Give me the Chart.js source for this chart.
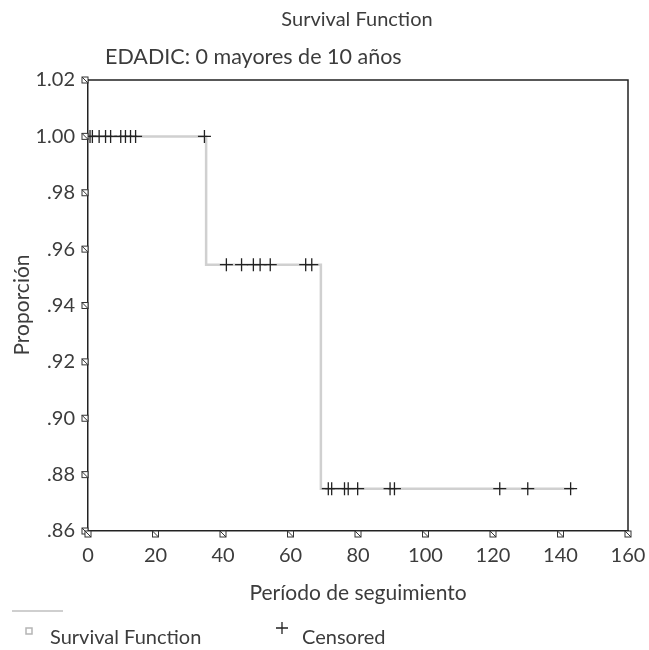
<!DOCTYPE html>
<html>
<head>
<meta charset="utf-8">
<script src="https://cdn.jsdelivr.net/npm/chart.js@4"></script>
<style>
  html, body { margin: 0; padding: 0; background: #fff; }
</style>
</head>
<body>
<canvas id="kmChart" width="649" height="650"></canvas>
<script>
// Kaplan-Meier: EDADIC 0 (mayores de 10 años)

// tiempos donde cambia la curva y proporción en cada tramo
const stepTimes = [0, 35, 69, 144];
const survival = [1.0, 0.9545, 0.875, 0.875];

// tiempos censurados
const censoredTimes = [0.6, 1.3, 3.3, 5.2, 6.7, 9.7, 11.1, 12.6, 14.1, 34.5,
    41, 45.5, 49, 51, 54, 64.5, 66.3,
    71.2, 72.2, 76, 77.1, 79.9, 89.5, 90.8, 122, 130.3, 143];

const xTicks = [0, 20, 40, 60, 80, 100, 120, 140, 160];
const yTicks = [0.86, 0.88, 0.90, 0.92, 0.94, 0.96, 0.98, 1.00, 1.02];

const textColor = '#3c3c3c';
const fontFamily = 'Lato, "Open Sans", sans-serif';

// proporción vigente en un tiempo dado (para situar las cruces)
function survivalAt(t) {
    let idx = 0;
    for (let i = 0; i < stepTimes.length; i++) {
        if (stepTimes[i] <= t) idx = i;
    }
    return survival[idx];
}

const curvePoints = stepTimes.map((t, i) => ({ x: t, y: survival[i] }));
const censoredPoints = censoredTimes.map(t => ({ x: t, y: survivalAt(t) }));

function tickBox(ctx, x, y) {
    ctx.save();
    ctx.fillStyle = '#fff';
    ctx.strokeStyle = '#333';
    ctx.lineWidth = 1;
    ctx.fillRect(x - 3, y - 3, 6, 6);
    ctx.strokeRect(x - 3, y - 3, 6, 6);
    ctx.beginPath();
    ctx.moveTo(x - 3, y - 3);
    ctx.lineTo(x + 3, y + 3);
    ctx.stroke();
    ctx.restore();
}

/**
 * Marco, marcas de los ejes, títulos y leyenda
 */
const decorations = {
    id: 'decorations',
    afterDraw(chart) {
        const ctx = chart.ctx;
        const area = chart.chartArea;
        const xs = chart.scales.x;
        const ys = chart.scales.y;

        // marco superior y derecho
        ctx.save();
        ctx.strokeStyle = '#222';
        ctx.lineWidth = 1.5;
        ctx.beginPath();
        ctx.moveTo(area.left, area.top);
        ctx.lineTo(area.right, area.top);
        ctx.lineTo(area.right, area.bottom);
        ctx.stroke();
        ctx.restore();

        // marcas cuadradas en los ejes
        yTicks.forEach(v => tickBox(ctx, area.left - 3, ys.getPixelForValue(v)));
        xTicks.forEach(v => tickBox(ctx, xs.getPixelForValue(v), area.bottom + 3));

        ctx.save();
        ctx.fillStyle = textColor;
        ctx.textBaseline = 'middle';

        // títulos
        ctx.font = '20px ' + fontFamily;
        ctx.textAlign = 'center';
        ctx.fillText('Survival Function', 357, 20);
        ctx.font = '21.5px ' + fontFamily;
        ctx.textAlign = 'left';
        ctx.fillText('EDADIC: 0 mayores de 10 años', 105, 57);

        // títulos de ejes
        ctx.font = '21px ' + fontFamily;
        ctx.textAlign = 'center';
        ctx.fillText('Período de seguimiento', 358, 593);
        ctx.save();
        ctx.translate(22, 305);
        ctx.rotate(-Math.PI / 2);
        ctx.fillText('Proporción', 0, 0);
        ctx.restore();

        // leyenda
        ctx.strokeStyle = '#cfcfcf';
        ctx.lineWidth = 2;
        ctx.beginPath();
        ctx.moveTo(12, 611);
        ctx.lineTo(63, 611);
        ctx.stroke();

        ctx.strokeStyle = '#b5b5b5';
        ctx.lineWidth = 1.5;
        ctx.strokeRect(26, 628, 6, 6);

        ctx.font = '20px ' + fontFamily;
        ctx.textAlign = 'left';
        ctx.fillText('Survival Function', 50, 638);

        ctx.strokeStyle = '#222';
        ctx.lineWidth = 1.3;
        ctx.beginPath();
        ctx.moveTo(276, 628);
        ctx.lineTo(288, 628);
        ctx.moveTo(282, 622);
        ctx.lineTo(282, 634);
        ctx.stroke();
        ctx.fillText('Censored', 302, 638);
        ctx.restore();
    }
};

Chart.defaults.font.family = fontFamily;
Chart.defaults.color = textColor;

const ctx = document.getElementById('kmChart').getContext('2d');
const kmChart = new Chart(ctx, {
    type: 'scatter',
    data: {
        datasets: [
            {
                label: 'Survival Function',
                data: curvePoints,
                showLine: true,
                stepped: true,
                borderColor: '#d0d0d0',
                borderWidth: 2.5,
                pointRadius: 0,
                clip: false,
                order: 2
            },
            {
                label: 'Censored',
                data: censoredPoints,
                showLine: false,
                pointStyle: 'cross',
                pointRadius: 6.5,
                borderColor: '#222',
                borderWidth: 1.3,
                clip: false,
                order: 1
            }
        ]
    },
    options: {
        responsive: false,
        animation: false,
        events: [],
        layout: {
            padding: { top: 80, right: 21, bottom: 0, left: 0 }
        },
        plugins: {
            legend: { display: false },
            title: { display: false },
            tooltip: { enabled: false }
        },
        scales: {
            x: {
                type: 'linear',
                min: 0,
                max: 160,
                afterBuildTicks: s => { s.ticks = xTicks.map(v => ({ value: v })); },
                afterFit: s => {
                    s.height = 119;
                    s.paddingLeft = 0;
                    s.paddingRight = 0;
                },
                grid: { display: false, drawTicks: false },
                border: { display: true, color: '#222', width: 1.5 },
                ticks: {
                    padding: 13,
                    font: { size: 20 },
                    color: textColor,
                    maxRotation: 0
                }
            },
            y: {
                type: 'linear',
                min: 0.86,
                max: 1.02,
                afterBuildTicks: s => { s.ticks = yTicks.map(v => ({ value: v })); },
                afterFit: s => {
                    s.width = 88;
                    s.paddingTop = 0;
                    s.paddingBottom = 0;
                },
                grid: { display: false, drawTicks: false },
                border: { display: true, color: '#222', width: 1.5 },
                ticks: {
                    padding: 13,
                    font: { size: 20 },
                    color: textColor,
                    callback: v => v.toFixed(2).replace(/^0/, '')
                }
            }
        }
    },
    plugins: [decorations]
});
</script>
</body>
</html>
